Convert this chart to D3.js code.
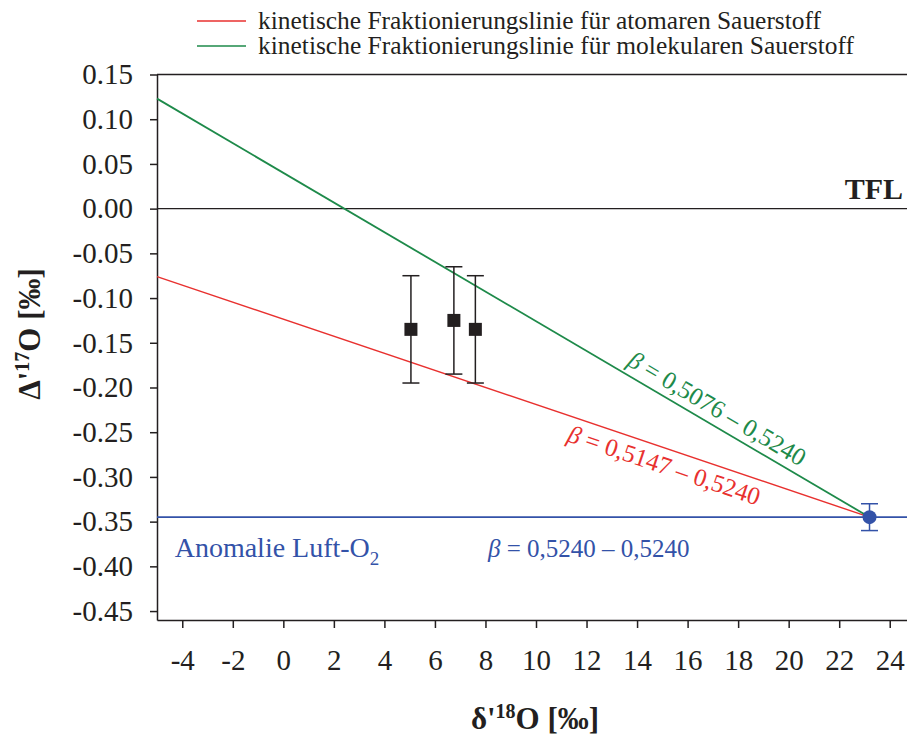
<!DOCTYPE html>
<html>
<head>
<meta charset="utf-8">
<script src="https://cdn.jsdelivr.net/npm/d3@7"></script>
<style>
  html, body { margin: 0; padding: 0; background: #fff; }
  svg { display: block; }
  svg text { font-family: "Liberation Serif", "Times New Roman", serif; }
</style>
</head>
<body>
<svg id="chart" width="907" height="738"></svg>
<script>
// Axis ticks
const xTicks = [-4, -2, 0, 2, 4, 6, 8, 10, 12, 14, 16, 18, 20, 22, 24];
const xTickLabels = ["-4", "-2", "0", "2", "4", "6", "8", "10", "12", "14", "16", "18", "20", "22", "24"];
const yTicks = [0.15, 0.10, 0.05, 0.00, -0.05, -0.10, -0.15, -0.20, -0.25, -0.30, -0.35, -0.40, -0.45];
const yTickLabels = ["0.15", "0.10", "0.05", "0.00", "-0.05", "-0.10", "-0.15", "-0.20", "-0.25", "-0.30", "-0.35", "-0.40", "-0.45"];

// Measured samples (δ'18O, Δ'17O, error)
const sampleX = [5.05, 6.75, 7.6];
const sampleY = [-0.135, -0.125, -0.135];
const sampleErr = [0.06, 0.06, 0.06];

// Air O2
const airX = [23.2];
const airY = [-0.345];
const airErr = [0.015];

// Kinetic fractionation lines (end points)
const atomicX = [-5, 23.2];
const atomicY = [-0.076, -0.345];
const molecularX = [-5, 23.2];
const molecularY = [0.123, -0.345];

// Reference levels
const tflLevel = 0;
const airLevel = -0.345;

const legendLabels = [
  "kinetische Fraktionierungslinie für atomaren Sauerstoff",
  "kinetische Fraktionierungslinie für molekularen Sauerstoff"
];
const betaValues = ["0,5076 – 0,5240", "0,5147 – 0,5240", "0,5240 – 0,5240"];

const RED = "#e8312f", GREEN = "#1e8a4a", BLUE = "#3352a8", INK = "#231f20";

const svg = d3.select("#chart");
const x = d3.scaleLinear().domain([-5, 25]).range([157, 915]);
const y = d3.scaleLinear().domain([-0.46, 0.15]).range([620, 74.5]);

// Legend
const legend = svg.append("g");
[[RED, 21, 29, 563], [GREEN, 46, 54, 596]].forEach(([c, ly, ty, len], i) => {
  legend.append("line").attr("x1", 197).attr("x2", 246).attr("y1", ly).attr("y2", ly)
    .attr("stroke", c).attr("stroke-width", 1.6);
  legend.append("text").attr("x", 258).attr("y", ty)
    .attr("font-size", 25).attr("fill", INK)
    .attr("textLength", len).attr("lengthAdjust", "spacingAndGlyphs")
    .text(legendLabels[i]);
});

// Axes
const yAxis = d3.axisLeft(y).tickValues(yTicks)
  .tickFormat((d, i) => yTickLabels[i]).tickSize(7).tickSizeOuter(0).tickPadding(17);
const gy = svg.append("g").attr("transform", `translate(${x(-5)},0)`).call(yAxis);
gy.attr("font-family", null);
gy.selectAll("text").attr("font-size", 29).attr("fill", INK);

const xAxis = d3.axisBottom(x).tickValues(xTicks)
  .tickFormat((d, i) => xTickLabels[i]).tickSize(8).tickSizeOuter(0);
const gx = svg.append("g").attr("transform", `translate(0,${y(-0.46)})`).call(xAxis);
gx.attr("font-family", null);
gx.selectAll("text").attr("font-size", 29).attr("fill", INK).attr("y", 50).attr("dy", null);

[gx, gy].forEach(g => {
  g.selectAll("path, line").attr("stroke", INK).attr("stroke-width", 1.5);
});

// Top frame line
svg.append("line").attr("x1", x(-5)).attr("x2", x(25)).attr("y1", y(0.15)).attr("y2", y(0.15))
  .attr("stroke", INK).attr("stroke-width", 1.5);

// Axis titles
const yTitle = svg.append("text").attr("transform", "translate(40,334) rotate(-90)")
  .attr("text-anchor", "middle").attr("font-size", 31).attr("font-weight", "bold").attr("fill", INK);
yTitle.append("tspan").text("Δ'");
yTitle.append("tspan").attr("font-size", 20).attr("dy", -11).text("17");
yTitle.append("tspan").attr("dy", 11).text("O [‰]");

const xTitle = svg.append("text").attr("x", 535).attr("y", 729)
  .attr("text-anchor", "middle").attr("font-size", 31).attr("font-weight", "bold").attr("fill", INK);
xTitle.append("tspan").text("δ'");
xTitle.append("tspan").attr("font-size", 20).attr("dy", -11).text("18");
xTitle.append("tspan").attr("dy", 11).text("O [‰]");

// TFL line and air O2 line
svg.append("line").attr("x1", x(-5)).attr("x2", x(25)).attr("y1", y(tflLevel)).attr("y2", y(tflLevel))
  .attr("stroke", INK).attr("stroke-width", 1.3);
svg.append("text").attr("x", 903).attr("y", 199).attr("text-anchor", "end")
  .attr("font-size", 30).attr("font-weight", "bold").attr("fill", INK).text("TFL");

svg.append("line").attr("x1", x(-5)).attr("x2", x(25)).attr("y1", y(airLevel)).attr("y2", y(airLevel))
  .attr("stroke", BLUE).attr("stroke-width", 1.6);

// Fractionation lines
const line = d3.line().x(d => x(d[0])).y(d => y(d[1]));
svg.append("path").datum(atomicX.map((v, i) => [v, atomicY[i]]))
  .attr("d", line).attr("fill", "none").attr("stroke", RED).attr("stroke-width", 1.4);
svg.append("path").datum(molecularX.map((v, i) => [v, molecularY[i]]))
  .attr("d", line).attr("fill", "none").attr("stroke", GREEN).attr("stroke-width", 1.8);

// β labels along the lines
function betaLabel(xs, ys, xStart, offset, color, val) {
  const ang = Math.atan2(y(ys[1]) - y(ys[0]), x(xs[1]) - x(xs[0])) * 180 / Math.PI;
  const t = (xStart - xs[0]) / (xs[1] - xs[0]);
  const yStart = ys[0] + t * (ys[1] - ys[0]);
  const txt = svg.append("text")
    .attr("transform", `translate(${x(xStart)},${y(yStart)}) rotate(${ang})`)
    .attr("y", offset).attr("font-size", 25).attr("fill", color);
  txt.append("tspan").attr("font-style", "italic").text("β");
  txt.append("tspan").text(" = " + val);
}
betaLabel(molecularX, molecularY, 13.4, -8, GREEN, betaValues[0]);
betaLabel(atomicX, atomicY, 11.5, 25, RED, betaValues[1]);

const blueBeta = svg.append("text").attr("x", x(8.1)).attr("y", 557).attr("font-size", 25).attr("fill", BLUE);
blueBeta.append("tspan").attr("font-style", "italic").text("β");
blueBeta.append("tspan").text(" = " + betaValues[2]);

const airLabel = svg.append("text").attr("x", x(-4.3)).attr("y", 557).attr("font-size", 28).attr("fill", BLUE);
airLabel.append("tspan").text("Anomalie Luft-O");
airLabel.append("tspan").attr("font-size", 19).attr("dy", 8).text("2");

// Error bars and markers
function errorBar(cx, cy, e, color) {
  const g = svg.append("g").attr("stroke", color).attr("stroke-width", 1.5);
  g.append("line").attr("x1", x(cx)).attr("x2", x(cx)).attr("y1", y(cy + e)).attr("y2", y(cy - e));
  [cy + e, cy - e].forEach(v => g.append("line")
    .attr("x1", x(cx) - 8.5).attr("x2", x(cx) + 8.5).attr("y1", y(v)).attr("y2", y(v)));
}
sampleX.forEach((v, i) => errorBar(v, sampleY[i], sampleErr[i], INK));
svg.selectAll("rect.sample").data(sampleX).join("rect").attr("class", "sample")
  .attr("x", d => x(d) - 6.5).attr("y", (d, i) => y(sampleY[i]) - 6.5)
  .attr("width", 13).attr("height", 13).attr("fill", INK);

airX.forEach((v, i) => errorBar(v, airY[i], airErr[i], BLUE));
svg.selectAll("circle.air").data(airX).join("circle").attr("class", "air")
  .attr("cx", d => x(d)).attr("cy", (d, i) => y(airY[i])).attr("r", 7).attr("fill", BLUE);
</script>
</body>
</html>
